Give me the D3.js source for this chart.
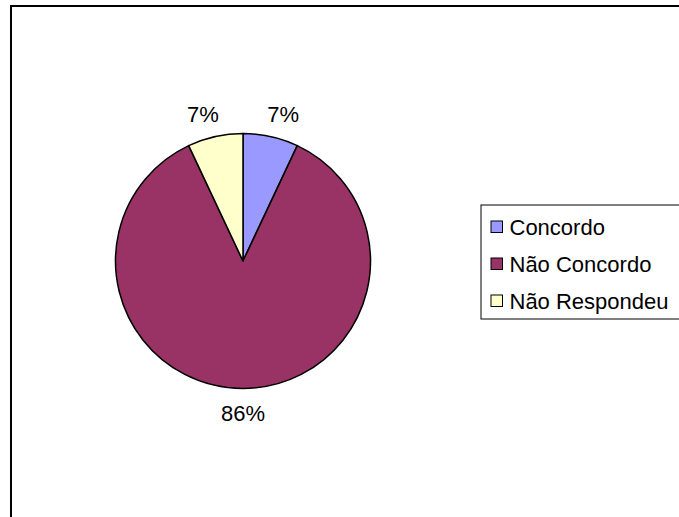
<!DOCTYPE html>
<html>
<head>
<meta charset="utf-8">
<script src="https://cdn.jsdelivr.net/npm/d3@7"></script>
<style>
  html, body { margin: 0; padding: 0; background: #fff; }
  svg { display: block; font-family: "Liberation Sans", Arial, sans-serif; }
</style>
</head>
<body>
<svg id="chart" width="679" height="517"></svg>
<script>
// Survey answers and their shares (percent)
const categories = ["Concordo", "Não Concordo", "Não Respondeu"];
const values = [7, 86, 7];
const colors = ["#9999FF", "#993366", "#FFFFCC"];

const svg = d3.select("#chart");
const W = 679, H = 517;

// Chart area frame (runs off the right and bottom edges)
svg.append("rect")
  .attr("x", 11).attr("y", 6)
  .attr("width", W + 20).attr("height", H + 20)
  .attr("fill", "#fff")
  .attr("stroke", "#000")
  .attr("stroke-width", 2);

const cx = 243, cy = 261, r = 127.5;

const pie = d3.pie().sort(null).value(d => d)
  .startAngle(0).endAngle(2 * Math.PI);
const arcs = pie(values);
const arc = d3.arc().innerRadius(0).outerRadius(r);

const g = svg.append("g").attr("transform", `translate(${cx},${cy})`);

g.selectAll("path.slice")
  .data(arcs)
  .join("path")
  .attr("class", "slice")
  .attr("d", arc)
  .attr("fill", (d, i) => colors[i])
  .attr("stroke", "#000")
  .attr("stroke-width", 1.5)
  .attr("stroke-linejoin", "round");

// Percent labels outside the pie
const labelR = 151.5;
const fmt = d => d3.format(".0%")(d / 100);
g.selectAll("text.pct")
  .data(arcs)
  .join("text")
  .attr("class", "pct")
  .attr("x", d => {
    const a = (d.startAngle + d.endAngle) / 2;
    const s = Math.sin(a);
    const nudge = Math.abs(s) > 0.05 ? Math.sign(s) * 7 : 0;
    return labelR * s + nudge;
  })
  .attr("y", d => {
    const a = (d.startAngle + d.endAngle) / 2;
    return -labelR * Math.cos(a) + 8.7;
  })
  .attr("text-anchor", "middle")
  .attr("font-size", 22)
  .attr("fill", "#000")
  .text(d => fmt(d.data));

// Legend
const legX = 481, legY = 205;
svg.append("rect")
  .attr("x", legX).attr("y", legY)
  .attr("width", 260).attr("height", 114)
  .attr("fill", "#fff")
  .attr("stroke", "#000")
  .attr("stroke-width", 1);

const rowY = d3.scalePoint().domain(categories).range([235, 309]);

const items = svg.selectAll("g.leg")
  .data(categories)
  .join("g")
  .attr("class", "leg")
  .attr("transform", d => `translate(0,${rowY(d)})`);

items.append("rect")
  .attr("x", 491).attr("y", -14)
  .attr("width", 11.5).attr("height", 11.5)
  .attr("fill", (d, i) => colors[i])
  .attr("stroke", "#000")
  .attr("stroke-width", 1);

items.append("text")
  .attr("x", 509.5).attr("y", 0)
  .attr("font-size", 22)
  .attr("fill", "#000")
  .text(d => d);
</script>
</body>
</html>
